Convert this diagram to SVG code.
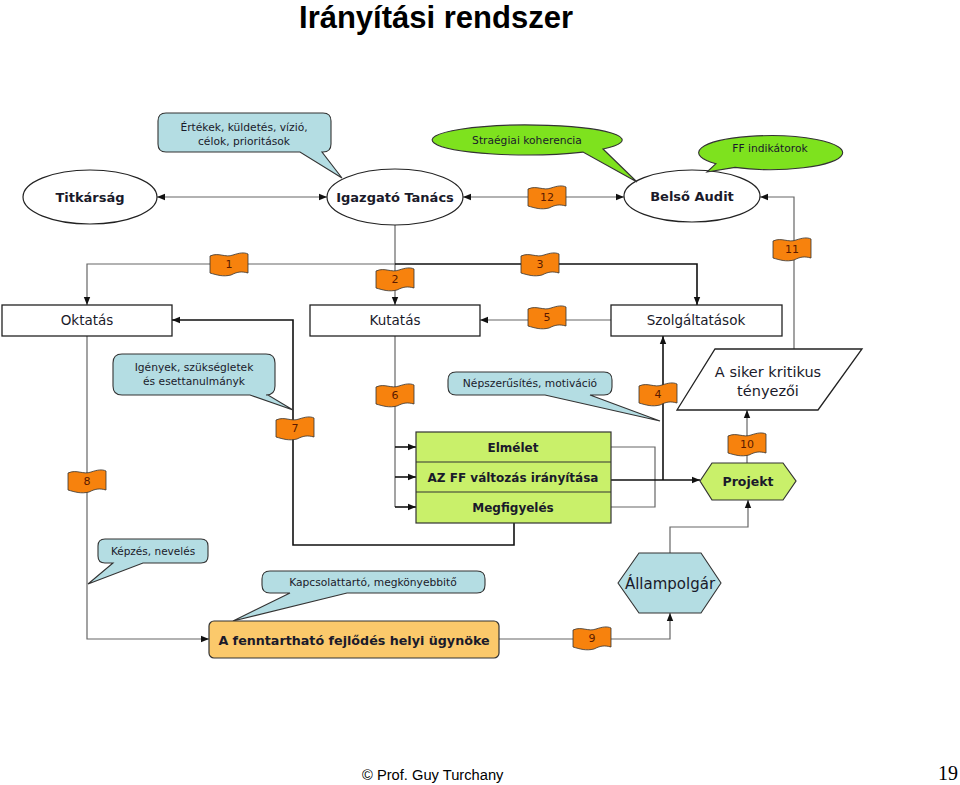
<svg xmlns="http://www.w3.org/2000/svg" width="960" height="785" viewBox="0 0 960 785">
<style>
.t{font-family:"DejaVu Sans",Verdana,sans-serif;fill:#1a1a2a;text-anchor:middle}
.b{font-weight:bold}
.ell{fill:#fff;stroke:#222;stroke-width:1.2}
.box{fill:#fff;stroke:#222;stroke-width:1.3}
.grn{fill:#c9f06a;stroke:#333;stroke-width:1.2}
.call{fill:#b4dde3;stroke:#333;stroke-width:1.1}
.gcall{fill:#7ee21e;stroke:#333;stroke-width:1.1}
.ln{fill:none;stroke:#666;stroke-width:1.2}
.lk{fill:none;stroke:#111;stroke-width:1.6}
.flag{fill:#f7820d;stroke:#333;stroke-width:0.8}
.fn{font-family:"DejaVu Sans",Verdana,sans-serif;font-size:11px;fill:#5a1a00;text-anchor:middle}
</style>
<defs>
<marker id="arr" viewBox="0 0 10 10" refX="10" refY="5" markerWidth="8" markerHeight="8" markerUnits="userSpaceOnUse" orient="auto-start-reverse">
<path d="M0,1 L10,5 L0,9 Z" fill="#111"/>
</marker>
<path id="fl" d="M-19,-8 C-10,-12 -4,-6 4,-9 C10,-11 15,-12 19,-10 L19,9 C12,7 8,8 2,11 C-6,13 -12,11 -19,9 Z"/>
</defs>
<rect width="960" height="785" fill="#fff"/>
<text x="436" y="28" style="font-family:'Liberation Sans',Arial,sans-serif;font-size:31px;font-weight:bold;text-anchor:middle;fill:#000">Irányítási rendszer</text>

<g id="connectors">
<line class="ln" x1="157" y1="197" x2="327" y2="197" marker-start="url(#arr)" marker-end="url(#arr)"/>
<line class="ln" x1="463" y1="197" x2="624" y2="197" marker-start="url(#arr)" marker-end="url(#arr)"/>
<path class="ln" d="M794,349 V197 H760" marker-end="url(#arr)"/>
<path class="ln" d="M395,225 V305" marker-end="url(#arr)"/>
<path class="ln" d="M395,264 H87 V305" marker-end="url(#arr)"/>
<path class="lk" d="M395,264 H697 V305" marker-end="url(#arr)"/>
<path class="ln" d="M611,320 H480" marker-end="url(#arr)"/>
<path class="lk" d="M514,523 V545 H293 V320 H172" marker-end="url(#arr)"/>
<path class="ln" d="M395,336 V507"/>
<path class="lk" d="M395,447 H416" marker-end="url(#arr)"/>
<path class="lk" d="M395,477 H416" marker-end="url(#arr)"/>
<path class="lk" d="M395,507 H416" marker-end="url(#arr)"/>
<path class="ln" d="M611,447 H655 V507 H611"/>
<path class="lk" d="M611,480 H700" marker-end="url(#arr)"/>
<path class="lk" d="M663,480 V336" marker-end="url(#arr)"/>
<path class="ln" d="M747,463 V410" marker-end="url(#arr)"/>
<path class="ln" d="M670,553 V527 H748 V500" marker-end="url(#arr)"/>
<path class="ln" d="M499,639 H670 V613" marker-end="url(#arr)"/>
<path class="ln" d="M87,336 V639 H209" marker-end="url(#arr)"/>
<g id="flags">
<use href="#fl" class="flag" transform="translate(229,264)"/><text class="fn" x="229" y="268">1</text>
<use href="#fl" class="flag" transform="translate(395,279)"/><text class="fn" x="395" y="283">2</text>
<use href="#fl" class="flag" transform="translate(540,264)"/><text class="fn" x="540" y="268">3</text>
<use href="#fl" class="flag" transform="translate(658,394)"/><text class="fn" x="658" y="398">4</text>
<use href="#fl" class="flag" transform="translate(547,317)"/><text class="fn" x="547" y="321">5</text>
<use href="#fl" class="flag" transform="translate(395,395)"/><text class="fn" x="395" y="399">6</text>
<use href="#fl" class="flag" transform="translate(295,428)"/><text class="fn" x="295" y="432">7</text>
<use href="#fl" class="flag" transform="translate(87,481)"/><text class="fn" x="87" y="485">8</text>
<use href="#fl" class="flag" transform="translate(592,638)"/><text class="fn" x="592" y="642">9</text>
<use href="#fl" class="flag" transform="translate(747,444)"/><text class="fn" x="747" y="448">10</text>
<use href="#fl" class="flag" transform="translate(792,249)"/><text class="fn" x="792" y="253">11</text>
<use href="#fl" class="flag" transform="translate(547,197)"/><text class="fn" x="547" y="201">12</text>
</g>
</g>

<g id="titkarsag">
<ellipse class="ell" cx="90" cy="197" rx="67" ry="27"/>
<text class="t b" x="90" y="202" font-size="13">Titkárság</text>
</g>
<g id="igazgato">
<ellipse class="ell" cx="395" cy="197" rx="68" ry="28"/>
<text class="t b" x="395" y="202" font-size="13">Igazgató Tanács</text>
</g>
<g id="belso-audit">
<ellipse class="ell" cx="692" cy="196" rx="68" ry="26"/>
<text class="t b" x="692" y="201" font-size="13">Belső Audit</text>
</g>

<g id="callout-ertekek">
<path class="call" d="M166,113 H323 Q331,113 331,121 V144 Q331,152 323,152 H322 L342,178 L300,152 H166 Q158,152 158,144 V121 Q158,113 166,113 Z"/>
<text class="t" x="244" y="131" font-size="10.7">Értékek, küldetés, vízió,</text>
<text class="t" x="244" y="145" font-size="10.7">célok, prioritások</text>
</g>
<g id="callout-strategiai">
<path class="gcall" d="M603,149 L637,182 L583,152.1 A95,15 0 1 1 603,149 Z"/>
<text class="t" x="527" y="144" font-size="10.7">Straégiai koherencia</text>
</g>
<g id="callout-ff">
<path class="gcall" d="M716,163.7 L707,172 L735,167.4 A72,17 0 1 0 716,163.7 Z"/>
<text class="t" x="770" y="152" font-size="10.7">FF indikátorok</text>
</g>

<g id="oktatas">
<rect class="box" x="2" y="305" width="170" height="31"/>
<text class="t" x="87" y="325" font-size="13.5">Oktatás</text>
</g>
<g id="kutatas">
<rect class="box" x="310" y="305" width="170" height="31"/>
<text class="t" x="395" y="325" font-size="13.5">Kutatás</text>
</g>
<g id="szolgaltatasok">
<rect class="box" x="611" y="305" width="171" height="31"/>
<text class="t" x="696" y="325" font-size="13.5">Szolgáltatások</text>
</g>

<g id="callout-igenyek">
<path class="call" d="M122,354 H266 Q275,354 275,363 V386 Q275,395 266,395 L268,395 L293,410 L250,395 H122 Q113,395 113,386 V363 Q113,354 122,354 Z"/>
<text class="t" x="194" y="371" font-size="10.7">Igények, szükségletek</text>
<text class="t" x="194" y="385" font-size="10.7">és esettanulmányk</text>
</g>
<g id="callout-nepszerusites">
<path class="call" d="M456,372 H604 Q612,372 612,380 V387 Q612,395 604,395 H590 L660,421 L545,395 H456 Q448,395 448,387 V380 Q448,372 456,372 Z"/>
<text class="t" x="530" y="387" font-size="10.7">Népszerűsítés, motiváció</text>
</g>

<g id="siker">
<polygon class="box" points="715,349 862,349 818,410 677,410"/>
<text class="t" x="768" y="377" font-size="14.5">A siker kritikus</text>
<text class="t" x="768" y="396" font-size="14.5">tényezői</text>
</g>

<g id="program">
<rect class="grn" x="416" y="432" width="195" height="91"/>
<line x1="416" y1="462" x2="611" y2="462" stroke="#333" stroke-width="1.2"/>
<line x1="416" y1="492" x2="611" y2="492" stroke="#333" stroke-width="1.2"/>
<text class="t b" x="513" y="452" font-size="12">Elmélet</text>
<text class="t b" x="513" y="482" font-size="12">AZ FF változás irányítása</text>
<text class="t b" x="513" y="512" font-size="12">Megfigyelés</text>
</g>

<g id="projekt">
<polygon class="grn" points="700,481 712,463 783,463 796,481 783,500 712,500"/>
<text class="t b" x="748" y="486" font-size="12.5">Projekt</text>
</g>

<g id="allampolgar">
<polygon class="call" points="618,583 639,553 701,553 721,583 701,613 639,613"/>
<text class="t" x="670" y="589" font-size="15">Állampolgár</text>
</g>

<g id="callout-kepzes">
<path class="call" d="M105,539 H201 Q208,539 208,546 V556 Q208,563 201,563 H143 L88,584 L113,563 H105 Q98,563 98,556 V546 Q98,539 105,539 Z"/>
<text class="t" x="153" y="555" font-size="10.5">Képzés, nevelés</text>
</g>
<g id="callout-kapcsolat">
<path class="call" d="M270,571 H477 Q485,571 485,579 V585 Q485,593 477,593 H347 L233,621 L290,593 H270 Q262,593 262,585 V579 Q262,571 270,571 Z"/>
<text class="t" x="373" y="586" font-size="10.7">Kapcsolattartó, megkönyebbitő</text>
</g>

<g id="ugynok">
<rect x="209" y="621" width="290" height="37" rx="5" fill="#fbc96b" stroke="#333" stroke-width="1.2"/>
<text class="t b" x="354" y="645" font-size="12.7">A fenntartható fejlődés helyi ügynöke</text>
</g>

<text x="362" y="780" style="font-family:'Liberation Sans',Arial,sans-serif;font-size:14.7px;fill:#000">© Prof. Guy Turchany</text>
<text x="958" y="780" style="font-family:'Liberation Serif','Times New Roman',serif;font-size:20px;fill:#000;text-anchor:end">19</text>
</svg>
